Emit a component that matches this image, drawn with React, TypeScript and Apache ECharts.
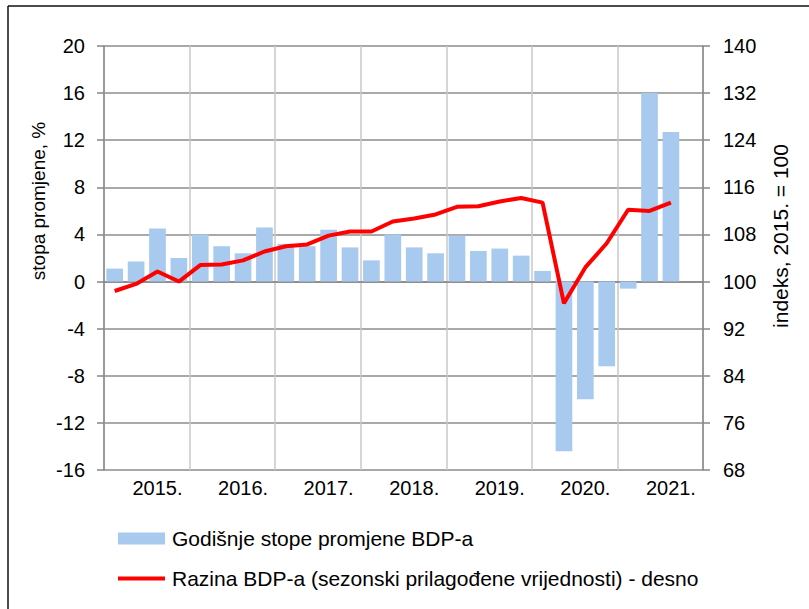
import React, { useEffect, useRef } from "react";
import * as echarts from "echarts";

const quarters = [
  "2015Q1", "2015Q2", "2015Q3", "2015Q4",
  "2016Q1", "2016Q2", "2016Q3", "2016Q4",
  "2017Q1", "2017Q2", "2017Q3", "2017Q4",
  "2018Q1", "2018Q2", "2018Q3", "2018Q4",
  "2019Q1", "2019Q2", "2019Q3", "2019Q4",
  "2020Q1", "2020Q2", "2020Q3", "2020Q4",
  "2021Q1", "2021Q2", "2021Q3", "2021Q4",
];

const growthRates = [
  1.1, 1.7, 4.5, 2.0,
  4.0, 3.0, 2.4, 4.6,
  3.2, 3.0, 4.4, 2.9,
  1.8, 4.0, 2.9, 2.4,
  3.9, 2.6, 2.8, 2.2,
  0.9, -14.4, -10.0, -7.2,
  -0.6, 16.0, 12.7, null,
];

const gdpLevel = [
  98.4, 99.6, 101.7, 100.0,
  102.8, 102.9, 103.6, 105.1,
  106.0, 106.3, 107.8, 108.5,
  108.5, 110.2, 110.7, 111.4,
  112.7, 112.8, 113.6, 114.2,
  113.4, 96.3, 102.4, 106.5,
  112.2, 112.0, 113.4, null,
];

const barName = "Godišnje stope promjene BDP-a";
const lineName = "Razina BDP-a (sezonski prilagođene vrijednosti) - desno";
const leftAxisName = "stopa promjene, %";
const rightAxisName = "indeks, 2015. = 100";

const FONT = "'Liberation Sans', Arial, sans-serif";

export default function App() {
  const ref = useRef<HTMLDivElement>(null);
  useEffect(() => {
    if (!ref.current) return;
    const chart = echarts.init(ref.current, null, { renderer: "svg" });
    const axisGrey = "#868686";
    chart.setOption({
      animation: false,
      textStyle: { fontFamily: FONT },
      grid: { left: 104, right: 106, top: 46, bottom: 139, containLabel: false },
      legend: {
        orient: "vertical",
        left: 116,
        top: 528,
        padding: 0,
        itemWidth: 47,
        itemHeight: 12,
        itemGap: 19,
        textStyle: { fontSize: 21, color: "#000", fontFamily: FONT, padding: [0, 0, 0, 2] },
        data: [
          { name: barName, icon: "rect" },
          { name: lineName, itemStyle: { color: "transparent", borderWidth: 0 }, lineStyle: { width: 4, color: "#ff0000" } },
        ],
      },
      xAxis: {
        type: "category",
        data: quarters,
        boundaryGap: true,
        axisLine: { show: true, lineStyle: { color: axisGrey, width: 1.5 } },
        axisTick: { show: false },
        axisLabel: {
          interval: 0,
          margin: 8,
          fontSize: 20,
          color: "#000",
          fontFamily: FONT,
          formatter: (v: string, i: number) => (i % 4 === 2 ? v.slice(0, 4) + "." : ""),
        },
        splitLine: {
          show: true,
          interval: (i: number) => i % 4 === 0,
          lineStyle: { color: "#c8c8c8", width: 1.5 },
        },
      },
      yAxis: [
        {
          type: "value",
          min: -16,
          max: 20,
          interval: 4,
          axisLine: { show: true, lineStyle: { color: axisGrey, width: 1.5 } },
          axisTick: { show: true, length: 7, lineStyle: { color: axisGrey, width: 1.5 } },
          axisLabel: { fontSize: 20, color: "#000", margin: 19, fontFamily: FONT },
          splitLine: { show: true, lineStyle: { color: "#8c8c8c", width: 1.5 } },
        },
        {
          type: "value",
          min: 68,
          max: 140,
          interval: 8,
          position: "right",
          axisLine: { show: true, lineStyle: { color: axisGrey, width: 1.5 } },
          axisTick: { show: true, length: 7, lineStyle: { color: axisGrey, width: 1.5 } },
          axisLabel: { fontSize: 20, color: "#000", margin: 20, fontFamily: FONT },
          splitLine: { show: false },
        },
      ],
      series: [
        {
          name: barName,
          type: "bar",
          yAxisIndex: 0,
          data: growthRates,
          barCategoryGap: "22%",
          itemStyle: { color: "#a8caef" },
        },
        {
          name: lineName,
          type: "line",
          yAxisIndex: 1,
          data: gdpLevel,
          symbol: "none",
          lineStyle: { color: "#ff0000", width: 4 },
          itemStyle: { color: "#ff0000" },
          z: 5,
        },
      ],
      graphic: [
        { type: "line", shape: { x1: 8, y1: 6, x2: 809, y2: 6 }, style: { stroke: "#111", lineWidth: 1.5 } },
        { type: "line", shape: { x1: 8, y1: 6, x2: 8, y2: 609 }, style: { stroke: "#111", lineWidth: 1.5 } },
        {
          type: "text",
          x: 38,
          y: 201,
          rotation: Math.PI / 2,
          style: { text: leftAxisName, fontSize: 19, fill: "#000", fontFamily: FONT, align: "center", verticalAlign: "middle" },
        },
        {
          type: "text",
          x: 780,
          y: 236,
          rotation: Math.PI / 2,
          style: { text: rightAxisName, fontSize: 21, fill: "#000", fontFamily: FONT, align: "center", verticalAlign: "middle" },
        },
      ],
    });
    return () => chart.dispose();
  }, []);
  return <div ref={ref} style={{ position: "absolute", left: 0, top: 0, width: 809, height: 609 }} />;
}
